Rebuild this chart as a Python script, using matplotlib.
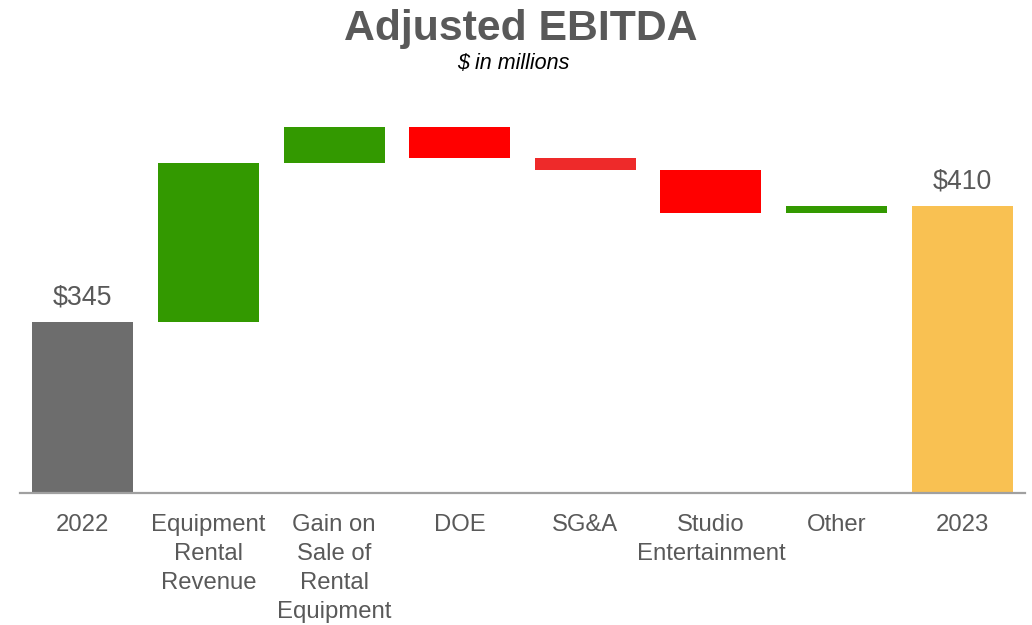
import matplotlib
matplotlib.use("Agg")
import matplotlib.pyplot as plt
import numpy as np

plt.rcParams['font.family'] = ['Liberation Sans', 'DejaVu Sans']

# Waterfall data ($ in millions)
categories = ["2022", "Equipment\nRental\nRevenue", "Gain on\nSale of\nRental\nEquipment",
              "DOE", "SG&A", "Studio\nEntertainment", "Other", "2023"]
start_total = 345
changes = [89, 20, -17, -7, -24, 4]
end_total = 410
total_labels = ["$345", "$410"]

colors = ["#6d6d6d", "#339900", "#339900", "#ff0000", "#ee2a2a", "#ff0000", "#339900", "#f9c152"]
text_color = "#595959"

# Compute floating bar bottoms/heights
bottoms = [0]
heights = [start_total]
level = start_total
for c in changes:
    if c >= 0:
        bottoms.append(level)
        heights.append(c)
    else:
        bottoms.append(level + c)
        heights.append(-c)
    level += c
bottoms.append(0)
heights.append(end_total)

fig = plt.figure(figsize=(10.32, 6.25), dpi=100)
ymin, ymax = 249.2, 462
ax = fig.add_axes([20 / 1032, 132 / 625, 1005 / 1032, (493 - 113) / 625])

x = np.arange(len(categories))
ax.bar(x, heights, bottom=bottoms, width=0.804, color=colors, zorder=2)
ax.set_xlim(-0.5, len(categories) - 0.5)
ax.set_ylim(ymin, ymax)

for spine in ["top", "right", "left"]:
    ax.spines[spine].set_visible(False)
ax.spines["bottom"].set_color("#a0a0a0")
ax.spines["bottom"].set_linewidth(1.6)
ax.set_yticks([])
ax.set_xticks(x)
ax.set_xticklabels(categories, fontsize=17.2, color=text_color, linespacing=1.41)
ax.tick_params(axis="x", length=0, pad=15.2)

# Total labels
for xi, val, lab in [(0, start_total, total_labels[0]), (len(categories) - 1, end_total, total_labels[1])]:
    ax.annotate(lab, (xi, val), xytext=(0, 8), textcoords="offset points",
                ha="center", va="bottom", fontsize=19.3, color=text_color)

fig.text(0.505, 0.953, "Adjusted EBITDA", ha="center", va="center",
         fontsize=30.8, fontweight="bold", color=text_color)
fig.text(0.497, 0.898, "$ in millions", ha="center", va="center",
         fontsize=15.5, style="italic", color="#000000")

fig.savefig("out.png", dpi=100, facecolor="white")
